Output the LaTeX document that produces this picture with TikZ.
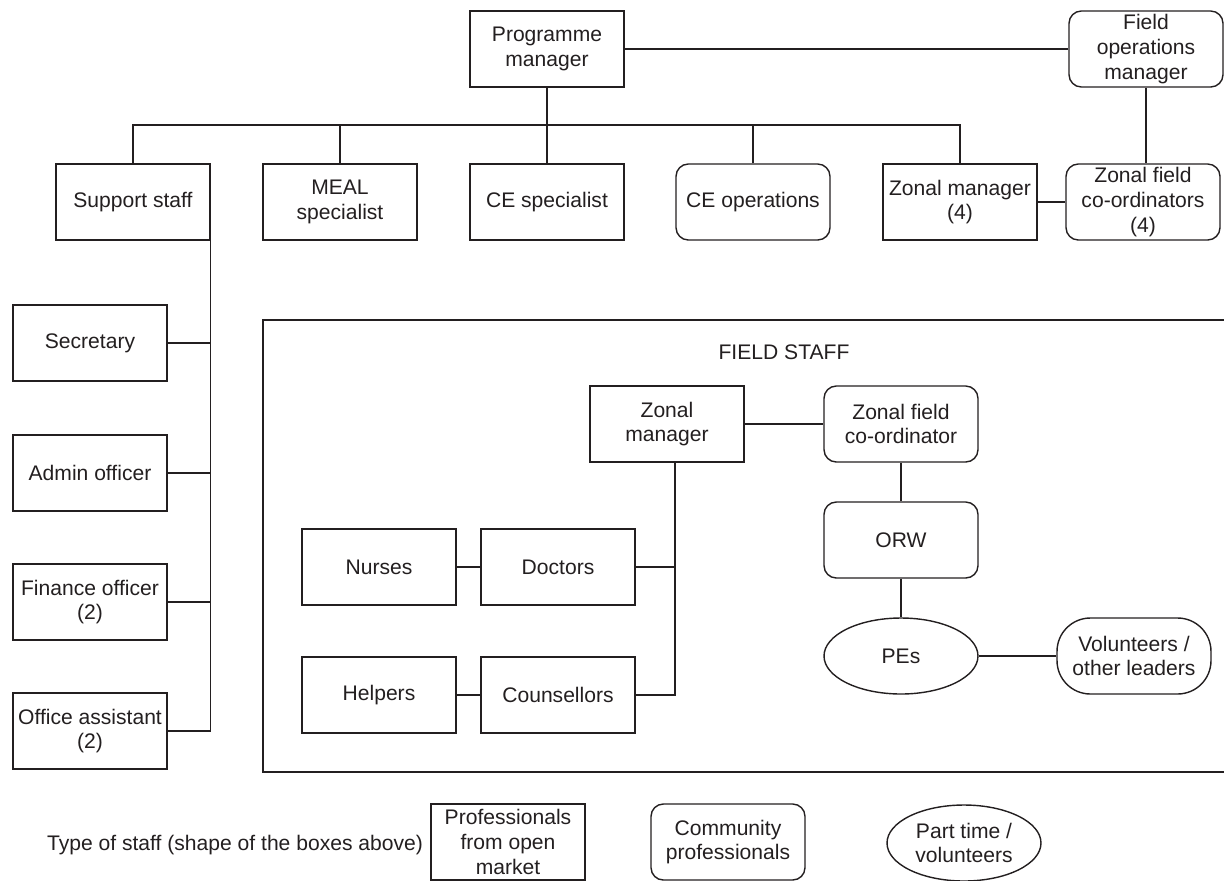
\documentclass[tikz,border=0pt]{standalone}
\usepackage{fontspec}
\setmainfont{Liberation Sans}
\usetikzlibrary{shapes.geometric}
\definecolor{ink}{HTML}{231F20}
\tikzset{
  box/.style={draw, rectangle, minimum width=3.08cm, minimum height=1.52cm, inner sep=0pt, align=center},
  rbox/.style={box, rounded corners=7pt},
  stadium/.style={box, rounded corners=19pt},
  oval/.style={draw, ellipse, minimum width=3.08cm, minimum height=1.52cm, inner sep=0pt, align=center},
  link/.style={draw}
}
\begin{document}
\begin{tikzpicture}[x=0.02cm, y=-0.02cm, color=ink, line width=0.8pt,
  font=\fontsize{12}{14}\selectfont]
\useasboundingbox (0,0) rectangle (1224,880);

% top level
\node[box] (pm) at (547,49) {Programme\\manager};
\node[rbox] (fom) at (1146,49) {Field\\operations\\manager};

% second level
\node[box] (sup) at (133,202) {Support staff};
\node[box] (meal) at (340,202) {MEAL\\specialist};
\node[box] (ces) at (547,202) {CE specialist};
\node[rbox] (ceo) at (753,202) {CE operations};
\node[box] (zm4) at (960,202) {Zonal manager\\(4)};
\node[rbox] (zfc4) at (1143,202) {Zonal field\\co-ordinators\\(4)};

% support staff
\node[box] (sec) at (90,343) {Secretary};
\node[box] (adm) at (90,473) {Admin officer};
\node[box] (fin) at (90,602) {Finance officer\\(2)};
\node[box] (off) at (90,731) {Office assistant\\(2)};

% connectors top
\coordinate (busy) at (0,125);
\draw (pm.east) -- (fom.west);
\draw (pm.south) -- (ces.north);
\draw (sup.north) |- (zm4.north |- busy) -- (zm4.north);
\draw (meal.north) -- (meal.north |- busy);
\draw (ceo.north) -- (ceo.north |- busy);
\draw (fom.south) -- (fom.south |- zfc4.north);
\draw (zm4.east) -- (zfc4.west);

% support spine
\draw (sup.south east) -- (sup.south east |- off.east);
\draw (sec.east) -- (sec.east -| sup.south east);
\draw (adm.east) -- (adm.east -| sup.south east);
\draw (fin.east) -- (fin.east -| sup.south east);
\draw (off.east) -- (off.east -| sup.south east);

% field staff frame
\draw (1226,320) -- (263,320) -- (263,772) -- (1226,772);
\node (fst) at (784,352) {FIELD STAFF};

\node[box] (fzm) at (667,424) {Zonal\\manager};
\node[rbox] (fzfc) at (901,424) {Zonal field\\co-ordinator};
\node[rbox] (orw) at (901,540) {ORW};
\node[oval] (pes) at (901,656) {PEs};
\node[stadium] (vol) at (1134,656) {Volunteers /\\other leaders};
\node[box] (nur) at (379,567) {Nurses};
\node[box] (doc) at (558,567) {Doctors};
\node[box] (hel) at (379,695) {Helpers};
\node[box] (cou) at (558,695) {Counsellors};

\path (fzm.south) ++(8,0) coordinate (zmv);
\draw (fzm.east) -- (fzfc.west);
\draw (fzfc.south) -- (orw.north);
\draw (orw.south) -- (pes.north);
\draw (pes.east) -- (vol.west);
\draw (zmv) |- (cou.east);
\draw (doc.east) -- (doc.east -| zmv);
\draw (nur.east) -- (doc.west);
\draw (hel.east) -- (cou.west);

% legend
\node (leg) at (235,845) {Type of staff (shape of the boxes above)};
\node[box] (lprof) at (508,842) {Professionals\\from open\\market};
\node[rbox] (lcom) at (728,842) {Community\\professionals};
\node[oval] (lpart) at (964,843) {Part time /\\volunteers};
\end{tikzpicture}
\end{document}
